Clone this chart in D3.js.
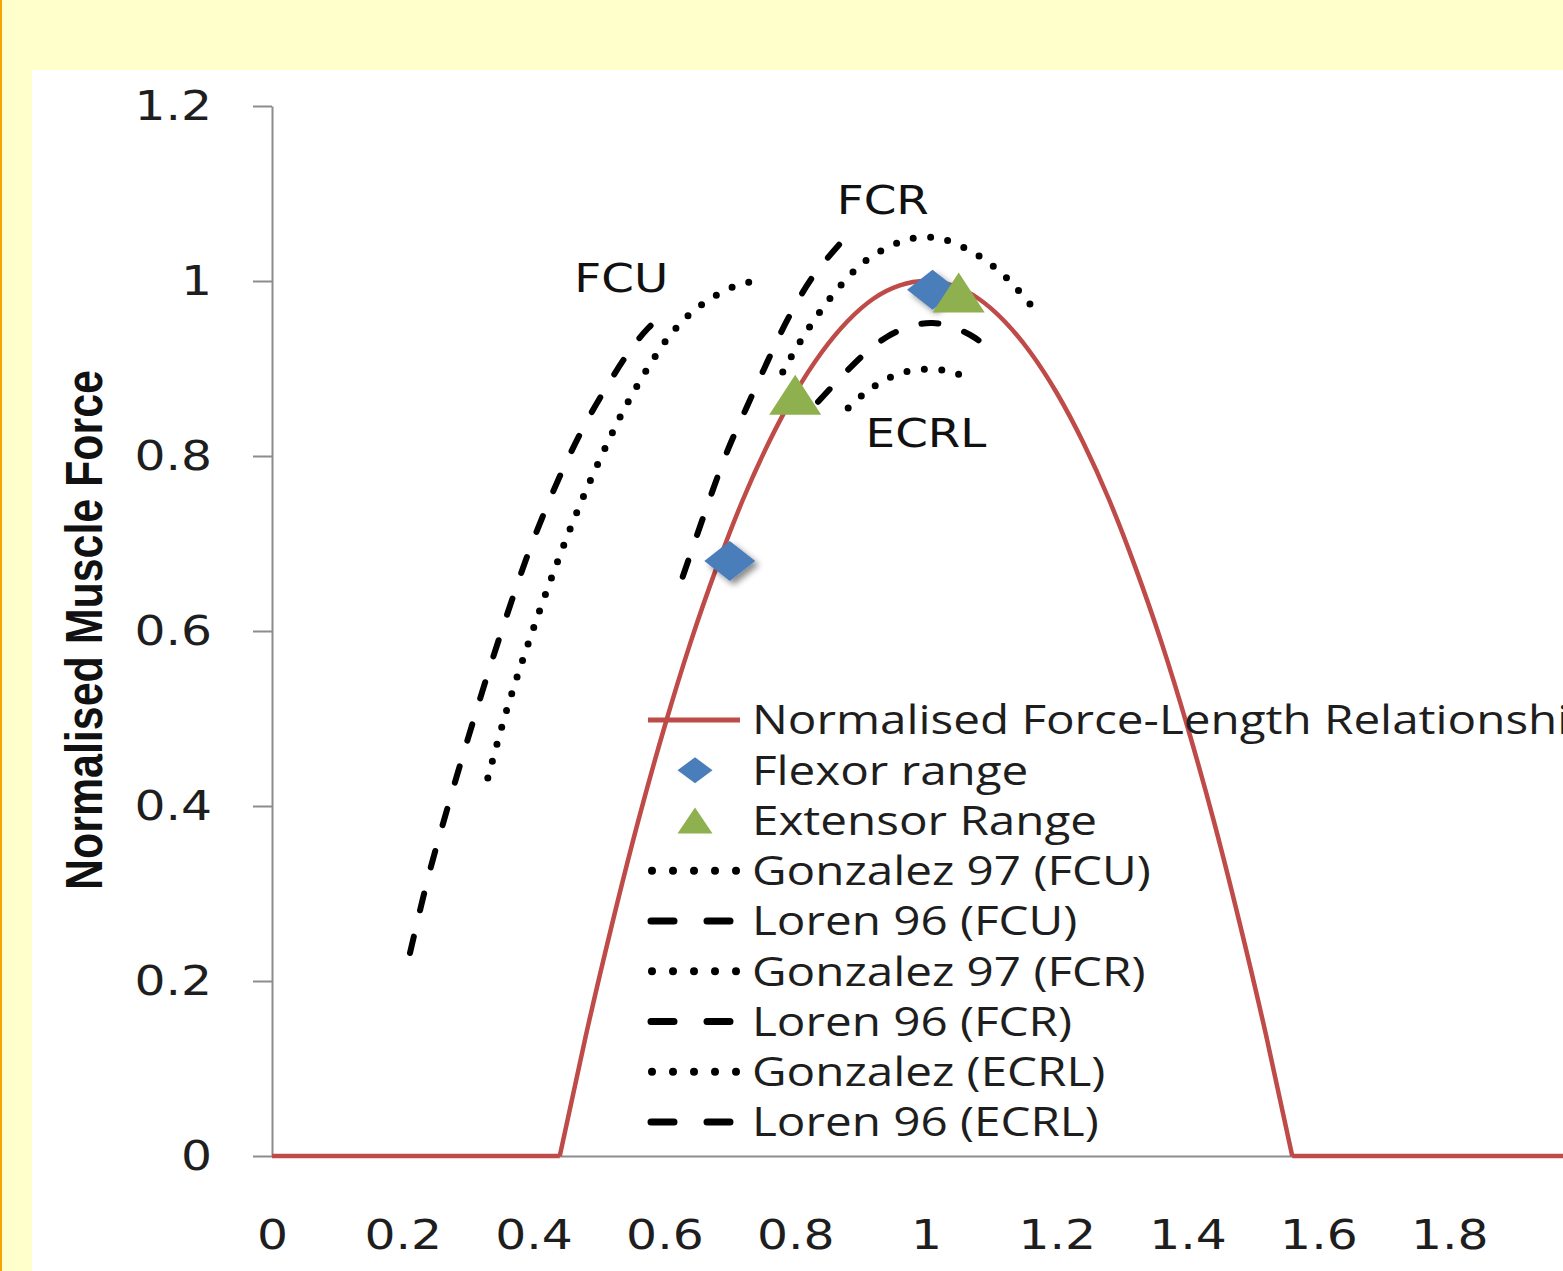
<!DOCTYPE html>
<html>
<head>
<meta charset="utf-8">
<script src="https://cdn.jsdelivr.net/npm/d3@7"></script>
<style>
  body { margin: 0; overflow: hidden; background: #ffffcc; }
</style>
</head>
<body>
<div id="chart"></div>
<script>

// ---------------- data ----------------

// normalised force-length relationship (red curve)
let forceLengthX = [0, 0.44, 0.48, 0.52, 0.56, 0.60, 0.64, 0.68, 0.72, 0.76, 0.80, 0.84, 0.88, 0.92, 0.96, 1.00,
                    1.04, 1.08, 1.12, 1.16, 1.20, 1.24, 1.28, 1.32, 1.36, 1.40, 1.44, 1.48, 1.52, 1.56, 2.0];
let forceLengthY = [0, 0, 0.138, 0.265, 0.383, 0.490, 0.587, 0.673, 0.750, 0.816, 0.872, 0.918, 0.954, 0.980, 0.995, 1.000,
                    0.995, 0.980, 0.954, 0.918, 0.872, 0.816, 0.750, 0.673, 0.587, 0.490, 0.383, 0.265, 0.138, 0, 0];

// marker series
let flexorX = [0.70, 1.01];
let flexorY = [0.68, 0.99];
let extensorX = [0.80, 1.05];
let extensorY = [0.87, 0.987];

// literature curves
let gonzalezFcuX = [0.330, 0.359, 0.391, 0.425, 0.463, 0.505, 0.552, 0.613, 0.657, 0.711, 0.742];
let gonzalezFcuY = [0.432, 0.510, 0.584, 0.656, 0.730, 0.802, 0.872, 0.942, 0.973, 0.995, 1.000];

let lorenFcuX = [0.211, 0.240, 0.270, 0.300, 0.330, 0.360, 0.390, 0.420, 0.450, 0.480, 0.510, 0.545, 0.575, 0.604];
let lorenFcuY = [0.232, 0.322, 0.402, 0.478, 0.551, 0.620, 0.685, 0.742, 0.793, 0.838, 0.877, 0.918, 0.946, 0.965];

let gonzalezFcrX = [0.781, 0.807, 0.838, 0.872, 0.911, 0.965, 0.995, 1.026, 1.080, 1.124, 1.162];
let gonzalezFcrY = [0.896, 0.930, 0.965, 0.997, 1.025, 1.046, 1.050, 1.048, 1.029, 1.003, 0.971];

let lorenFcrX = [0.628, 0.651, 0.673, 0.697, 0.726, 0.757, 0.789, 0.827, 0.876];
let lorenFcrY = [0.662, 0.712, 0.759, 0.807, 0.856, 0.907, 0.957, 1.005, 1.049];

let gonzalezEcrlX = [0.881, 0.905, 0.930, 0.955, 0.982, 1.012, 1.044, 1.072];
let gonzalezEcrlY = [0.855, 0.871, 0.884, 0.893, 0.898, 0.899, 0.895, 0.885];

let lorenEcrlX = [0.835, 0.870, 0.905, 0.940, 0.975, 1.010, 1.045, 1.075, 1.102];
let lorenEcrlY = [0.862, 0.890, 0.916, 0.936, 0.948, 0.952, 0.946, 0.935, 0.919];

let legendLabels = ["Normalised Force-Length Relationship", "Flexor range", "Extensor Range",
                    "Gonzalez 97 (FCU)", "Loren 96 (FCU)", "Gonzalez 97 (FCR)", "Loren 96 (FCR)",
                    "Gonzalez (ECRL)", "Loren 96 (ECRL)"];

let muscleLabels = ["FCU", "FCR", "ECRL"];
let muscleLabelX = [0.534, 0.934, 1.000];
let muscleLabelY = [1.003, 1.093, 0.826];

let xTicks = [0, 0.2, 0.4, 0.6, 0.8, 1, 1.2, 1.4, 1.6, 1.8];
let xTickLabels = ["0", "0.2", "0.4", "0.6", "0.8", "1", "1.2", "1.4", "1.6", "1.8"];
let yTicks = [0, 0.2, 0.4, 0.6, 0.8, 1, 1.2];
let yTickLabels = ["0", "0.2", "0.4", "0.6", "0.8", "1", "1.2"];

let yTitle = "Normalised Muscle Force";

// ---------------- drawing ----------------

const W = 1563, H = 1271;
const RED = "#be4b48", BLUE = "#4a7ebb", GREEN = "#8fb04e", AXIS = "#8c8c8c";

let svg = d3.select("#chart").append("svg")
  .attr("width", W)
  .attr("height", H);

let defs = svg.append("defs");
defs.append("filter").attr("id", "shadow")
  .attr("x", "-50%").attr("y", "-50%").attr("width", "200%").attr("height", "200%")
  .append("feDropShadow")
  .attr("dx", 4).attr("dy", 4).attr("stdDeviation", 3)
  .attr("flood-color", "#000").attr("flood-opacity", 0.45);

// background panels
svg.append("rect").attr("width", W).attr("height", H).attr("fill", "#ffffcc");
svg.append("rect").attr("x", 0).attr("y", 0).attr("width", 2).attr("height", H).attr("fill", "#f4a300");
svg.append("rect").attr("x", 32).attr("y", 70).attr("width", W - 32).attr("height", H - 70).attr("fill", "#fff");

let x = d3.scaleLinear().domain([0, 2]).range([272, 1580]);
let y = d3.scaleLinear().domain([0, 1.2]).range([1156, 106]);

// widen text the way the original (horizontally stretched) picture does
function stretch(selection, k) {
  selection.each(function () {
    let w = this.getComputedTextLength();
    d3.select(this).attr("textLength", w * k).attr("lengthAdjust", "spacingAndGlyphs");
  });
}

// axes
let yAxis = svg.append("g")
  .attr("transform", "translate(" + x(0) + ",0)")
  .call(d3.axisLeft(y).tickValues(yTicks).tickFormat((d, i) => yTickLabels[i])
        .tickSizeInner(19).tickSizeOuter(0).tickPadding(41));

let xAxis = svg.append("g")
  .attr("transform", "translate(0," + y(0) + ")")
  .call(d3.axisBottom(x).tickValues(xTicks).tickFormat((d, i) => xTickLabels[i])
        .tickSize(0).tickPadding(64));

[xAxis, yAxis].forEach(function (g) {
  g.select(".domain").attr("stroke", AXIS).attr("stroke-width", 2);
  g.selectAll(".tick line").attr("stroke", AXIS).attr("stroke-width", 2);
  g.selectAll(".tick text")
    .attr("fill", "#1e1e1e")
    .style("font-family", "'DejaVu Sans', Verdana, sans-serif")
    .style("font-size", "41px");
  g.selectAll(".tick text").call(stretch, 1.19);
});

// y title
svg.append("text")
  .attr("transform", "translate(102,630) rotate(-90)")
  .attr("text-anchor", "middle")
  .attr("textLength", 520)
  .attr("lengthAdjust", "spacingAndGlyphs")
  .style("font-family", "'Liberation Sans Narrow', 'Liberation Sans', Arial, sans-serif")
  .style("font-weight", "bold")
  .style("font-size", "52px")
  .attr("fill", "#111")
  .text(yTitle);

let line = d3.line().x(d => x(d[0])).y(d => y(d[1]));
let arch = d3.line().x(d => x(d[0])).y(d => y(d[1])).curve(d3.curveMonotoneX);
let smooth = d3.line().x(d => x(d[0])).y(d => y(d[1])).curve(d3.curveCatmullRom);

function zip(xs, ys) { return xs.map((v, i) => [v, ys[i]]); }

// red force-length curve: flat feet drawn straight, the arch smoothed
let fl = zip(forceLengthX, forceLengthY);
let n = fl.length;
let redParts = [fl.slice(0, 2), fl.slice(1, n - 1), fl.slice(n - 2)];

svg.selectAll("path.red")
  .data(redParts)
  .enter().append("path")
  .attr("class", "red")
  .attr("d", (d, i) => i === 1 ? arch(d) : line(d))
  .attr("fill", "none")
  .attr("stroke", RED)
  .attr("stroke-width", 4.5)
  .attr("stroke-linejoin", "round");

// marker shapes (wide, as in the original)
function diamondPath(w, h) {
  return "M0," + (-h / 2) + "L" + (w / 2) + ",0L0," + (h / 2) + "L" + (-w / 2) + ",0Z";
}
function trianglePath(w, h) {
  return "M0," + (-h / 2) + "L" + (w / 2) + "," + (h / 2) + "L" + (-w / 2) + "," + (h / 2) + "Z";
}

svg.selectAll("path.flexor")
  .data(zip(flexorX, flexorY))
  .enter().append("path")
  .attr("class", "flexor")
  .attr("transform", d => "translate(" + x(d[0]) + "," + y(d[1]) + ")")
  .attr("d", diamondPath(51, 40))
  .attr("fill", BLUE)
  .attr("filter", "url(#shadow)");

svg.selectAll("path.extensor")
  .data(zip(extensorX, extensorY))
  .enter().append("path")
  .attr("class", "extensor")
  .attr("transform", d => "translate(" + x(d[0]) + "," + y(d[1]) + ")")
  .attr("d", trianglePath(52, 40))
  .attr("fill", GREEN);

// literature curves
let dotted = { dash: "0,17.5", width: 7 };
let dashed = { dash: "17,27", width: 6 };

let curves = [
  { xs: gonzalezFcuX, ys: gonzalezFcuY, style: dotted },
  { xs: lorenFcuX, ys: lorenFcuY, style: dashed },
  { xs: gonzalezFcrX, ys: gonzalezFcrY, style: dotted },
  { xs: lorenFcrX, ys: lorenFcrY, style: dashed },
  { xs: gonzalezEcrlX, ys: gonzalezEcrlY, style: dotted },
  { xs: lorenEcrlX, ys: lorenEcrlY, style: dashed }
];

svg.selectAll("path.lit")
  .data(curves)
  .enter().append("path")
  .attr("class", "lit")
  .attr("d", d => smooth(zip(d.xs, d.ys)))
  .attr("fill", "none")
  .attr("stroke", "#000")
  .attr("stroke-width", d => d.style.width)
  .attr("stroke-linecap", "round")
  .attr("stroke-dasharray", d => d.style.dash);

// muscle annotations
svg.selectAll("text.muscle")
  .data(muscleLabels)
  .enter().append("text")
  .attr("class", "muscle")
  .attr("x", (d, i) => x(muscleLabelX[i]))
  .attr("y", (d, i) => y(muscleLabelY[i]))
  .attr("dy", "0.36em")
  .attr("text-anchor", "middle")
  .style("font-family", "'DejaVu Sans', Verdana, sans-serif")
  .style("font-size", "39px")
  .attr("fill", "#111")
  .text(d => d)
  .call(stretch, 1.2);

// legend
let legend = svg.append("g").attr("transform", "translate(648,720)");
let rowH = 50.25;

let rows = legend.selectAll("g.row")
  .data(legendLabels)
  .enter().append("g")
  .attr("class", "row")
  .attr("transform", (d, i) => "translate(0," + i * rowH + ")");

rows.append("text")
  .attr("x", 104)
  .attr("dy", "0.36em")
  .style("font-family", "'Open Sans', Calibri, sans-serif")
  .style("font-size", "40px")
  .attr("fill", "#1e1e1e")
  .text(d => d)
  .call(stretch, 1.19);

rows.each(function (d, i) {
  let g = d3.select(this);
  if (i === 0) {
    g.append("line").attr("x1", 0).attr("x2", 92)
      .attr("stroke", RED).attr("stroke-width", 5);
  } else if (i === 1) {
    g.append("path").attr("transform", "translate(47,0)").attr("d", diamondPath(35, 26)).attr("fill", BLUE);
  } else if (i === 2) {
    g.append("path").attr("transform", "translate(47,0)").attr("d", trianglePath(35, 26)).attr("fill", GREEN);
  } else {
    let isDot = (i % 2 === 1);
    g.append("line")
      .attr("x1", isDot ? 4 : 3).attr("x2", isDot ? 90 : 88)
      .attr("stroke", "#000")
      .attr("stroke-width", isDot ? 8 : 7)
      .attr("stroke-linecap", "round")
      .attr("stroke-dasharray", isDot ? "0,21" : "23,33");
  }
});

</script>
</body>
</html>
